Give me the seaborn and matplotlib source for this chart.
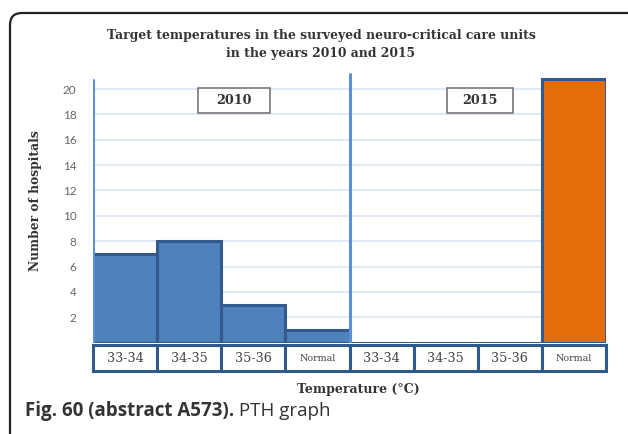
import matplotlib
matplotlib.use("Agg")
import matplotlib.pyplot as plt
import matplotlib.patches as mpatches
import matplotlib.transforms as mtransforms
import seaborn as sns
import pandas as pd

# ---- data ----
years = ["2010", "2010", "2010", "2010", "2015", "2015", "2015", "2015"]
temps = ["33-34", "34-35", "35-36", "Normal", "33-34", "34-35", "35-36", "Normal"]
counts = [7, 8, 3, 1, 0, 0, 0, 20.8]
yticks = [2, 4, 6, 8, 10, 12, 14, 16, 18, 20]

title_lines = ["Target temperatures in the surveyed neuro-critical care units",
               "in the years 2010 and 2015"]
ylabel = "Number of hospitals"
xlabel = "Temperature (°C)"
caption_bold = "Fig. 60 (abstract A573)."
caption_rest = " PTH graph"

df = pd.DataFrame({
    "key": [f"{y} {t}" for y, t in zip(years, temps)],
    "year": years,
    "temp": temps,
    "count": counts,
})
palette = {"2010": "#4F81BD", "2015": "#E46C0A"}

sns.set_theme(style="white")
plt.rcParams["font.family"] = ["DejaVu Sans"]

SERIF = "DejaVu Serif"
TXT = "#333333"

W, H = 628, 434
fig = plt.figure(figsize=(W / 100, H / 100), dpi=100)
ax_left, ax_right = 93 / W, 606 / W
ax_bottom, ax_top = 1 - 342.6 / H, 1 - 70 / H
ax = fig.add_axes([ax_left, ax_bottom, ax_right - ax_left, ax_top - ax_bottom])

sns.barplot(data=df, x="key", y="count", hue="year", palette=palette,
            width=1.0, dodge=False, legend=False, ax=ax,
            edgecolor="#34598C", linewidth=2.2, saturation=1)

ax.set_xlim(-0.5, len(df) - 0.5)
ax.set_ylim(0, 21.5)
for s in ax.spines.values():
    s.set_visible(False)

ax.set_yticks(yticks)
ax.set_yticklabels([str(v) for v in yticks], fontsize=8.5, color="#666666",
                   family="Lato")
ax.tick_params(axis="y", length=0, pad=12)
ax.yaxis.grid(True, color="#DCE6F2", linewidth=1.2)
ax.set_axisbelow(True)
ax.set_xticks([])
ax.set_xlabel("")

# vertical separator lines
ax.axvline(-0.5, ymin=0, ymax=0.965, color="#5B8FD6", linewidth=2.2, zorder=3)
ax.axvline(3.5, ymin=0, ymax=0.985, color="#5B8FD6", linewidth=2.2, zorder=3)

# category label boxes
xt = ax.get_xaxis_transform()
for i, t in enumerate(temps):
    r = mpatches.Rectangle((i - 0.5, -0.106), 1.0, 0.097, transform=xt,
                           facecolor="white", edgecolor="#2E5A8E",
                           linewidth=2.2, clip_on=False, zorder=4)
    ax.add_patch(r)
    fs = 6.8 if t == "Normal" else 9.2
    ax.text(i, -0.058, t, transform=xt, ha="center", va="center",
            fontsize=fs, family=SERIF, color="#444444",
            zorder=5, clip_on=False)

# year boxes
for (x0, w, lab) in [(0.205, 0.140, "2010"), (0.690, 0.129, "2015")]:
    r = mpatches.Rectangle((x0, 0.842), w, 0.092, transform=ax.transAxes,
                           facecolor="white", edgecolor="#777777",
                           linewidth=1.2, clip_on=False, zorder=5)
    ax.add_patch(r)
    ax.text(x0 + w / 2, 0.842 + 0.046, lab, transform=ax.transAxes,
            ha="center", va="center", fontsize=9.2, fontweight="bold",
            family=SERIF, color=TXT, zorder=6)

# axis labels
ax.set_ylabel(ylabel, fontsize=8.85, fontweight="bold", family=SERIF, color=TXT)
ax.yaxis.set_label_coords(-0.099, 0.52)
fig.text(358 / W, 1 - 389 / H, xlabel, ha="center", va="center", fontsize=9.0,
         fontweight="bold", family=SERIF, color=TXT)

# title (two lines)
for line, py in zip(title_lines, [35, 53]):
    fig.text(321 / W, 1 - py / H, line, ha="center", va="center",
             fontsize=8.9, fontweight="bold", family=SERIF, color=TXT)

# outer rounded frame
frame = mpatches.FancyBboxPatch((10, -20), 650, H - 13 + 20,
                                boxstyle="round,pad=0,rounding_size=12",
                                transform=mtransforms.IdentityTransform(),
                                facecolor="none", edgecolor="#222222",
                                linewidth=1.6)
fig.add_artist(frame)

# caption
t1 = fig.text(25 / W, 1 - 411 / H, caption_bold, ha="left", va="center",
              fontsize=13.5, fontweight="bold", family="Open Sans",
              color="#333333")
fig.canvas.draw()
bb = t1.get_window_extent()
fig.text(bb.x1 / W, 1 - 411 / H, caption_rest, ha="left", va="center",
         fontsize=13.5, family="Open Sans", color="#333333")

fig.savefig("out.png", dpi=100)
